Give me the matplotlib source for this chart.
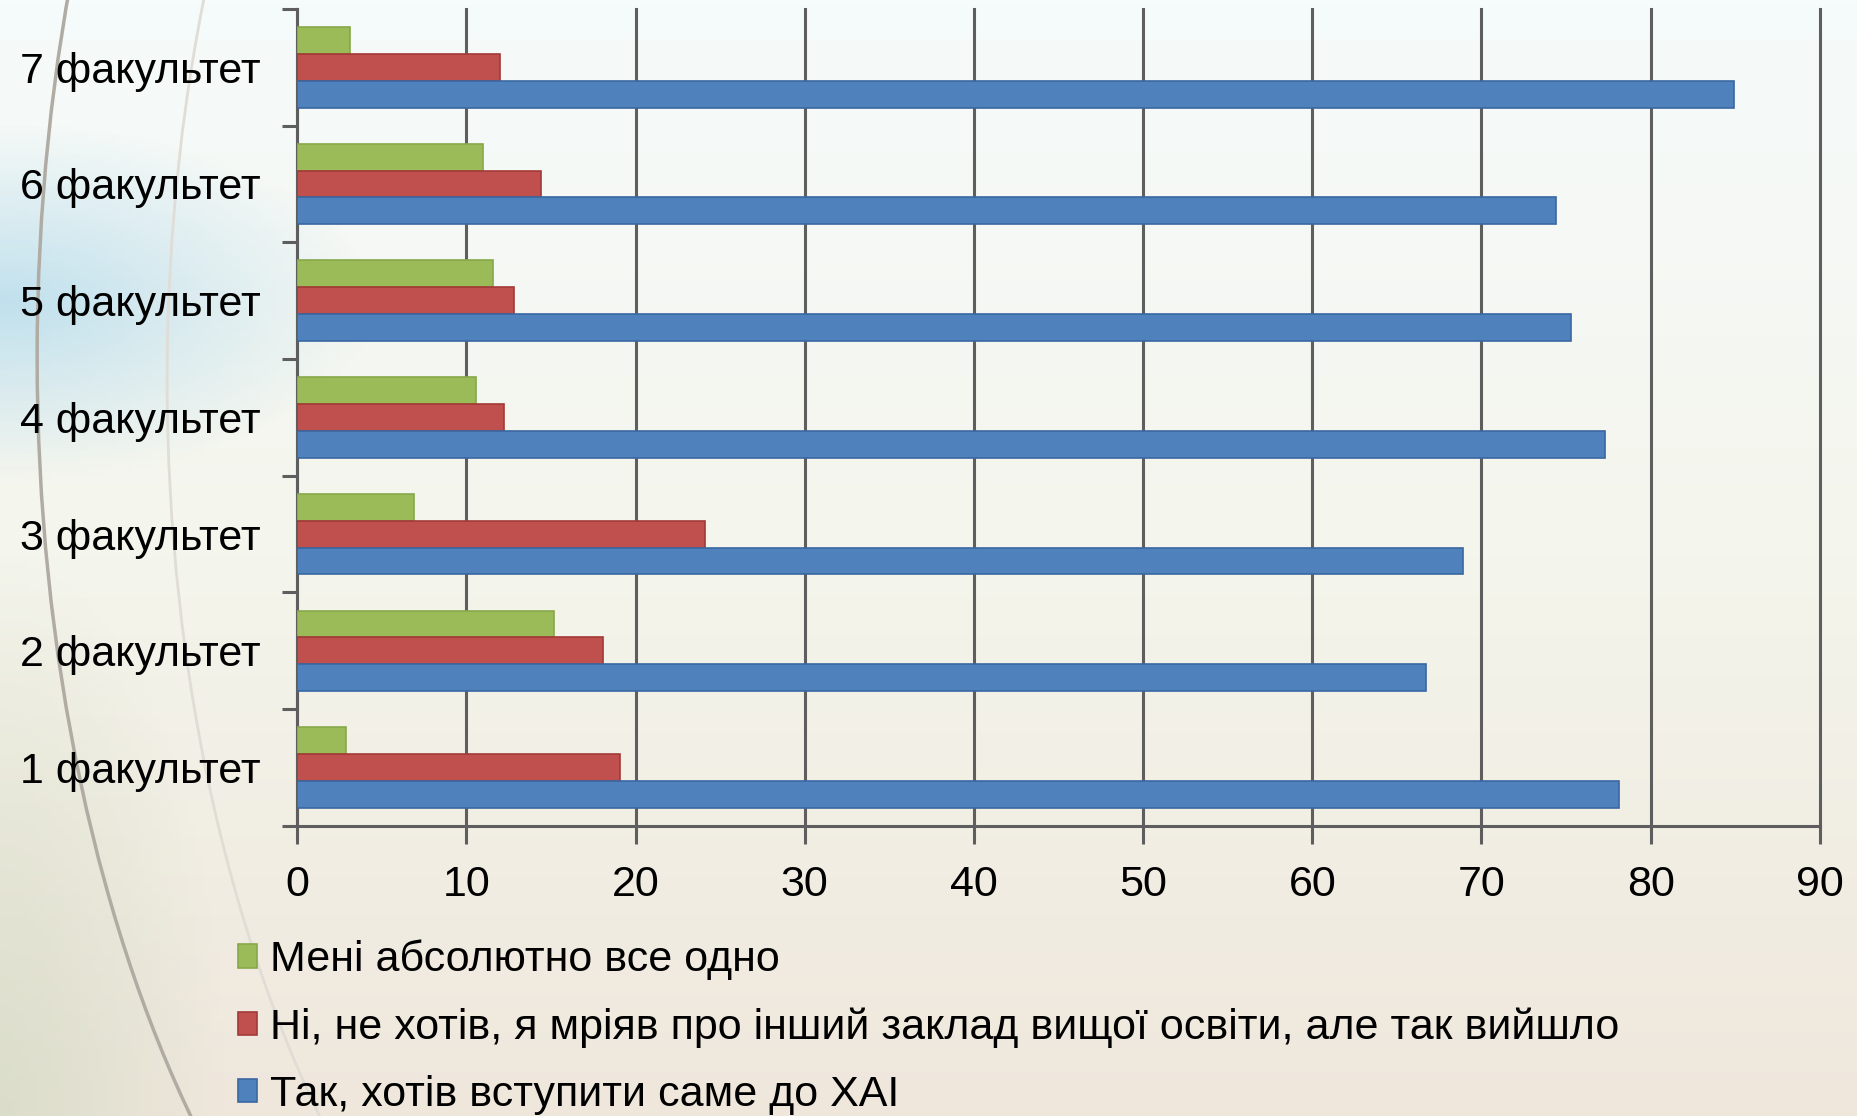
import numpy as np
import matplotlib.pyplot as plt
from matplotlib.colors import LinearSegmentedColormap
from matplotlib.patches import Arc

# data
faculties = ['1 факультет', '2 факультет', '3 факультет', '4 факультет',
             '5 факультет', '6 факультет', '7 факультет']
so_so = [2.9, 15.2, 6.9, 10.6, 11.6, 11.0, 3.1]          # Мені абсолютно все одно
other_uni = [19.1, 18.1, 24.1, 12.2, 12.8, 14.4, 12.0]   # Ні, не хотів ...
yes_xai = [78.1, 66.7, 68.9, 77.3, 75.3, 74.4, 84.9]     # Так, хотів ...
series_labels = ['Мені абсолютно все одно',
                 'Ні, не хотів, я мріяв про інший заклад вищої освіти, але так вийшло',
                 'Так, хотів вступити саме до ХАІ']
xticks = list(range(0, 100, 10))

plt.rcParams['font.family'] = ['Liberation Sans', 'DejaVu Sans']

fig = plt.figure(figsize=(18.57, 11.16), dpi=100)

# background gradient, roughly like the slide behind the chart
bg = fig.add_axes([0, 0, 1, 1], zorder=-5)
cmap = LinearSegmentedColormap.from_list('bg', ['#f6fbfb', '#f4f5ec', '#efe7dc'])
grad = np.linspace(0, 1, 256).reshape(-1, 1)
bg.imshow(grad, aspect='auto', cmap=cmap, extent=[0, 1, 0, 1], origin='upper')
# light blue glow on the left
side = np.zeros((256, 256, 4))
yy, xx = np.mgrid[0:1:256j, 0:1:256j]
glow = np.clip(1 - np.hypot((xx - 0.0) / 0.2, (yy - 0.27) / 0.16), 0, 1)
side[..., 0] = 0.62
side[..., 1] = 0.82
side[..., 2] = 0.92
side[..., 3] = glow * 0.6
bg.imshow(side, aspect='auto', extent=[0, 1, 0, 1], origin='upper')
# greyish-green shade at bottom left
shade = np.zeros((256, 256, 4))
g2 = np.clip(1 - np.hypot((xx - 0.0) / 0.12, (yy - 1.0) / 0.5), 0, 1)
shade[..., 0] = 0.84
shade[..., 1] = 0.86
shade[..., 2] = 0.78
shade[..., 3] = g2 * 0.8
bg.imshow(shade, aspect='auto', extent=[0, 1, 0, 1], origin='upper')
bg.add_patch(Arc((0.33, 0.68), 0.62, 2.0, angle=0, theta1=90, theta2=270,
                 color='#b0aca4', lw=2.5, transform=bg.transAxes))
bg.add_patch(Arc((0.42, 0.66), 0.66, 2.0, angle=0, theta1=90, theta2=270,
                 color='#e0ddd6', lw=2, transform=bg.transAxes))
bg.set_xlim(0, 1)
bg.set_ylim(0, 1)
bg.axis('off')

ax = fig.add_axes([0.16, 0.26, 0.82, 0.732])
ax.set_facecolor('none')

y = np.arange(len(faculties))
h = 0.23
ax.barh(y + h, so_so, height=h, color='#9bbb59', edgecolor='#86a84a', linewidth=1.2,
        label=series_labels[0], zorder=3)
ax.barh(y, other_uni, height=h, color='#c0504d', edgecolor='#a33a37', linewidth=1.2,
        label=series_labels[1], zorder=3)
ax.barh(y - h, yes_xai, height=h, color='#4f81bd', edgecolor='#3a67a2', linewidth=1.2,
        label=series_labels[2], zorder=3)

ax.set_xlim(0, 90)
ax.set_ylim(-0.5, len(faculties) - 0.5)
ax.set_xticks(xticks)
ax.set_xticklabels([str(t) for t in xticks])
ax.grid(axis='x', color='#5e5e5e', linewidth=2.2, zorder=1)
for gl in ax.get_xgridlines():
    gl.set_clip_on(False)

# ticks between categories, labels in the middle
ax.set_yticks(np.arange(-0.5, len(faculties), 1.0))
ax.set_yticklabels([])
ax.set_yticks(y, minor=True)
ax.set_yticklabels(faculties, minor=True)
ax.tick_params(axis='y', which='major', length=11, width=2.2, color='#5e5e5e')
ax.tick_params(axis='y', which='minor', length=0, pad=26, labelsize=31)
ax.tick_params(axis='x', length=13, width=2.2, color='#5e5e5e', pad=15, labelsize=31)

for s in ['top', 'right']:
    ax.spines[s].set_visible(False)
for s in ['left', 'bottom']:
    ax.spines[s].set_color('#5e5e5e')
    ax.spines[s].set_linewidth(2.2)

leg = fig.legend(loc='upper left', bbox_to_anchor=(0.128, 0.158), fontsize=31,
                 frameon=False, handlelength=0.45, handleheight=0.45,
                 handletextpad=0.3, labelspacing=0.63, borderpad=0, borderaxespad=0)

fig.savefig('out.png', dpi=100)
